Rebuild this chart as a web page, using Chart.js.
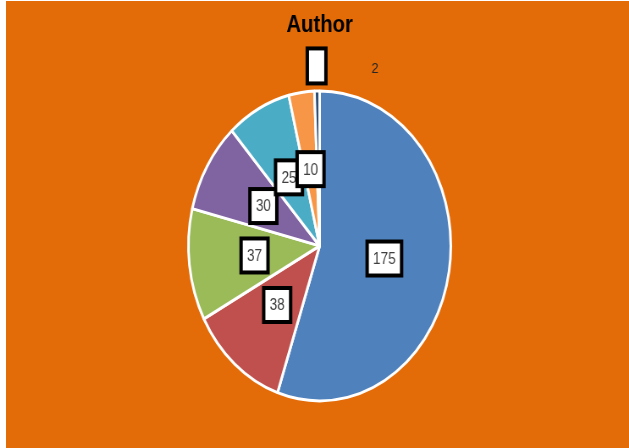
<!DOCTYPE html>
<html lang="en">
<head>
  <meta charset="UTF-8">
  <title>Author</title>
  <script src="https://cdn.jsdelivr.net/npm/chart.js"></script>
  <style>
    html, body { margin: 0; padding: 0; background: #fff; overflow: hidden; }
    #authorChart { position: absolute; left: 6px; top: 1px; }
  </style>
</head>
<body>
  <!-- drawn wide and squeezed by css, so the pie comes out as an upright oval -->
  <canvas id="authorChart" width="736" height="447" style="width:623px;height:447px"></canvas>
  <script>
    const categories = ['1', '2', '3', '4', '5', '6', '7'];
    const values = [175, 38, 37, 30, 25, 10, 2];
    const sliceColors = ['#4F81BD', '#C0504D', '#9BBB59', '#8064A2', '#4BACC6', '#F79646', '#2C4D75'];

    const FONT = '"Liberation Sans", Arial, sans-serif';

    // orange fill behind everything
    const chartBackground = {
      id: 'chartBackground',
      beforeDraw(chart) {
        const ctx = chart.ctx;
        ctx.save();
        ctx.fillStyle = '#E36C09';
        ctx.fillRect(0, 0, chart.width, chart.height);
        ctx.restore();
      }
    };

    // boxed value labels at half radius, last slice gets an empty box outside
    const boxLabels = {
      id: 'boxLabels',
      afterDatasetsDraw(chart) {
        const ctx = chart.ctx;
        const meta = chart.getDatasetMeta(0);
        ctx.save();
        ctx.textAlign = 'center';
        ctx.textBaseline = 'middle';
        meta.data.forEach((arc, i) => {
          const p = arc.getProps(['x', 'y', 'startAngle', 'endAngle', 'outerRadius'], true);
          const mid = (p.startAngle + p.endAngle) / 2;
          const last = i === values.length - 1;
          const r = last ? p.outerRadius + 25 : p.outerRadius * 0.5;
          const text = last ? '' : String(values[i]);
          const x = p.x + Math.cos(mid) * r;
          const y = p.y + Math.sin(mid) * r;
          ctx.font = '16px ' + FONT;
          const w = last ? 22 : ctx.measureText(text).width + 14;
          const h = last ? 35 : 34;
          ctx.fillStyle = '#fff';
          ctx.fillRect(x - w / 2, y - h / 2, w, h);
          ctx.lineWidth = 4;
          ctx.strokeStyle = '#000';
          ctx.strokeRect(x - w / 2, y - h / 2, w, h);
          if (text) {
            ctx.fillStyle = '#404040';
            ctx.fillText(text, x, y + 1);
          } else {
            ctx.font = '15px ' + FONT;
            ctx.fillStyle = '#262626';
            ctx.fillText(String(values[i]), x + 69, y + 3);
          }
        });
        ctx.restore();
      }
    };

    const ctx = document.getElementById('authorChart').getContext('2d');
    new Chart(ctx, {
      type: 'pie',
      data: {
        labels: categories,
        datasets: [{
          data: values,
          backgroundColor: sliceColors,
          borderColor: '#fff',
          borderWidth: 3
        }]
      },
      options: {
        responsive: false,
        animation: false,
        radius: 155,
        layout: { padding: { left: 5 } },
        plugins: {
          legend: { display: false },
          tooltip: { enabled: false },
          title: {
            display: true,
            text: 'Author',
            color: '#000',
            font: { size: 24, weight: 'bold', family: FONT },
            padding: { top: 10, bottom: 4 }
          }
        }
      },
      plugins: [chartBackground, boxLabels]
    });
  </script>
</body>
</html>
